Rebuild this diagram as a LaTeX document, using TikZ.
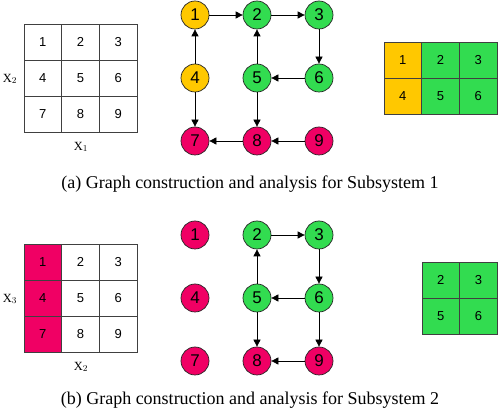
\documentclass[tikz,border=0pt]{standalone}
\usepackage{fontspec}
\setmainfont{Liberation Serif}
\newfontfamily\arialfont{Liberation Sans}
\usetikzlibrary{arrows.meta}
\definecolor{subyellow}{RGB}{255,200,0}
\definecolor{subgreen}{RGB}{50,220,80}
\definecolor{subpink}{RGB}{240,0,100}
\tikzset{
  state/.style={circle, draw=black!85, line width=0.7pt, minimum size=28pt, inner sep=0pt,
    font=\arialfont\fontsize{17}{17}\selectfont},
  cell/.style={draw=black!75, line width=0.9pt, minimum width=37.7pt, minimum height=36pt,
    inner sep=0pt, font=\arialfont\fontsize{13}{13}\selectfont},
  arr/.style={-{Triangle[length=7pt, width=7pt]}, line width=0.7pt},
  axis/.style={font=\fontsize{12.5}{12.5}\selectfont},
  caption/.style={font=\fontsize{18}{18}\selectfont}
}
\begin{document}
\begin{tikzpicture}[x=1pt, y=-1pt]
  \useasboundingbox (0,0) rectangle (499,414);

  % (a) grid
  \foreach \n in {1,...,9}
    \node[cell] (ga\n) at ({24+37.7*(mod(\n-1,3)+0.5)}, {24+36*(int((\n-1)/3)+0.5)}) {\n};
  \node[axis] (xa2) at (10,79) {X$_2$};
  \node[axis] (xa1) at (81,147) {X$_1$};

  % (a) graph
  \node[state, fill=subyellow] (a1) at (195,15) {1};
  \node[state, fill=subgreen] (a2) at (257,15) {2};
  \node[state, fill=subgreen] (a3) at (319,15) {3};
  \node[state, fill=subyellow] (a4) at (195,78) {4};
  \node[state, fill=subgreen] (a5) at (257,78) {5};
  \node[state, fill=subgreen] (a6) at (319,78) {6};
  \node[state, fill=subpink] (a7) at (195,141) {7};
  \node[state, fill=subpink] (a8) at (257,141) {8};
  \node[state, fill=subpink] (a9) at (319,141) {9};

  \draw[arr] (a1) -- (a2);
  \draw[arr] (a2) -- (a3);
  \draw[arr] (a3) -- (a6);
  \draw[arr] (a6) -- (a5);
  \draw[arr] (a5) -- (a2);
  \draw[arr] (a5) -- (a8);
  \draw[arr] (a4) -- (a1);
  \draw[arr] (a4) -- (a7);
  \draw[arr] (a8) -- (a7);
  \draw[arr] (a9) -- (a8);

  % (a) table
  \foreach \n/\c/\r/\col in {1/0/0/subyellow, 2/1/0/subgreen, 3/2/0/subgreen,
                             4/0/1/subyellow, 5/1/1/subgreen, 6/2/1/subgreen}
    \node[cell, fill=\col] (ta\n) at ({384+37.7*(\c+0.5)}, {42+36*(\r+0.5)}) {\n};

  \node[caption] (capa) at (250,184) {(a) Graph construction and analysis for Subsystem 1};

  % (b) grid
  \foreach \n/\col in {1/subpink, 2/white, 3/white, 4/subpink, 5/white, 6/white,
                       7/subpink, 8/white, 9/white}
    \node[cell, fill=\col] (gb\n) at ({24+37.7*(mod(\n-1,3)+0.5)}, {244+36*(int((\n-1)/3)+0.5)}) {\n};
  \node[axis] (xb3) at (10,299) {X$_3$};
  \node[axis] (xb2) at (81,367) {X$_2$};

  % (b) graph
  \node[state, fill=subpink] (b1) at (195,235) {1};
  \node[state, fill=subgreen] (b2) at (257,235) {2};
  \node[state, fill=subgreen] (b3) at (319,235) {3};
  \node[state, fill=subpink] (b4) at (195,298) {4};
  \node[state, fill=subgreen] (b5) at (257,298) {5};
  \node[state, fill=subgreen] (b6) at (319,298) {6};
  \node[state, fill=subpink] (b7) at (195,361) {7};
  \node[state, fill=subpink] (b8) at (257,361) {8};
  \node[state, fill=subpink] (b9) at (319,361) {9};

  \draw[arr] (b2) -- (b3);
  \draw[arr] (b3) -- (b6);
  \draw[arr] (b6) -- (b5);
  \draw[arr] (b5) -- (b2);
  \draw[arr] (b5) -- (b8);
  \draw[arr] (b6) -- (b9);
  \draw[arr] (b9) -- (b8);

  % (b) table
  \foreach \n/\c/\r in {2/0/0, 3/1/0, 5/0/1, 6/1/1}
    \node[cell, fill=subgreen] (tb\n) at ({422+37.7*(\c+0.5)}, {262+36*(\r+0.5)}) {\n};

  \node[caption] (capb) at (250,400) {(b) Graph construction and analysis for Subsystem 2};
\end{tikzpicture}
\end{document}
